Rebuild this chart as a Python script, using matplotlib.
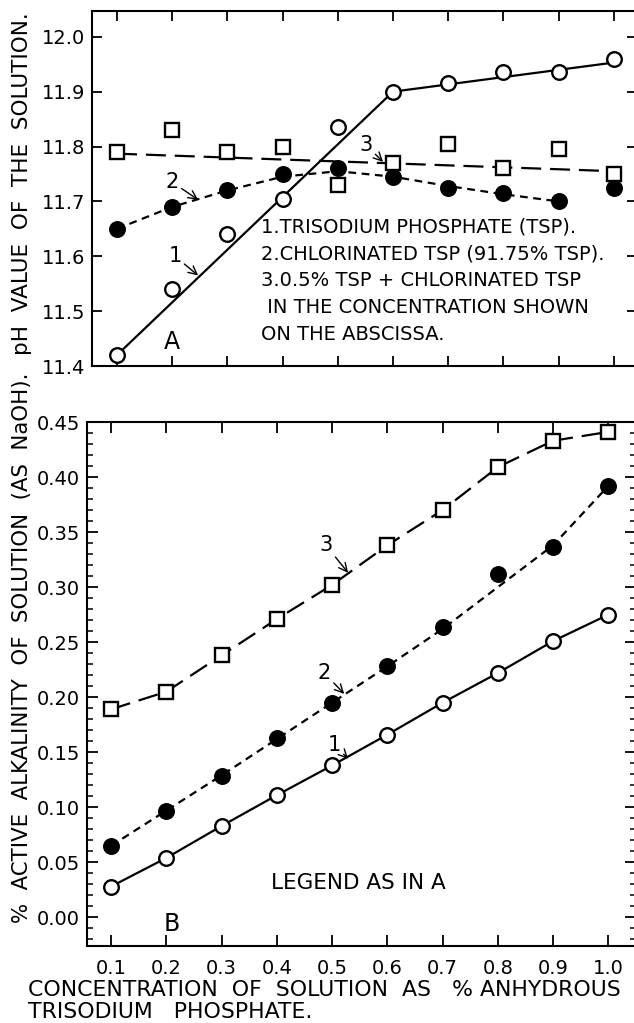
import matplotlib
matplotlib.use("Agg")
import matplotlib.pyplot as plt
from matplotlib.ticker import MultipleLocator, FormatStrFormatter

# ---------------- data ----------------
conc = [0.1, 0.2, 0.3, 0.4, 0.5, 0.6, 0.7, 0.8, 0.9, 1.0]

# Panel A: pH values
ph_tsp = [11.42, 11.54, 11.64, 11.705, 11.835, 11.90, 11.915, 11.935, 11.935, 11.96]
ph_chl = [11.65, 11.69, 11.72, 11.75, 11.76, 11.745, 11.725, 11.715, 11.70, 11.725]
ph_mix = [11.79, 11.83, 11.79, 11.80, 11.73, 11.77, 11.805, 11.76, 11.795, 11.75]

# fitted curves drawn in panel A
fit1_x = [0.1, 0.6, 1.0]
fit1_y = [11.42, 11.90, 11.953]
fit2_x = [0.1, 0.2, 0.3, 0.4, 0.5, 0.6, 0.7, 0.8, 0.9]
fit2_y = [11.65, 11.69, 11.72, 11.745, 11.755, 11.745, 11.728, 11.713, 11.70]
fit3_x = [0.1, 1.0]
fit3_y = [11.787, 11.755]

# Panel B: % active alkalinity
alk_tsp = [0.028, 0.054, 0.083, 0.111, 0.138, 0.166, 0.195, 0.222, 0.251, 0.275]
alk_chl = [0.065, 0.097, 0.128, 0.163, 0.195, 0.228, 0.264, 0.312, 0.336, 0.392]
alk_mix = [0.189, 0.205, 0.238, 0.271, 0.302, 0.338, 0.370, 0.409, 0.433, 0.441]
fitb2_y = [0.065, 0.097, 0.129, 0.162, 0.195, 0.228, 0.262, 0.300, 0.338, 0.392]

xtick_labels = ["0.1", "0.2", "0.3", "0.4", "0.5", "0.6", "0.7", "0.8", "0.9", "1.0"]

legend_lines = ["1.TRISODIUM PHOSPHATE (TSP).",
                "2.CHLORINATED TSP (91.75% TSP).",
                "3.0.5% TSP + CHLORINATED TSP",
                " IN THE CONCENTRATION SHOWN",
                "ON THE ABSCISSA."]

# ---------------- figure ----------------
plt.rcParams['font.family'] = ['DejaVu Sans']
fig = plt.figure(figsize=(6.34, 10.23), dpi=100)

axA = fig.add_axes([92/634, 1-366/1023, 545/634, 355/1023])
axB = fig.add_axes([87/634, 1-946/1023, 549/634, 524/1023])

lw = 1.6
ms = 10.5
mew = 1.7
k = 'black'

# ---- Panel A ----
axA.plot(fit1_x, fit1_y, '-', color=k, lw=lw)
axA.plot(fit2_x, fit2_y, color=k, lw=lw, dashes=(3.5, 2.5))
axA.plot(fit3_x, fit3_y, color=k, lw=lw, dashes=(9, 4))
axA.plot(conc, ph_tsp, 'o', ms=ms, mfc='white', mec=k, mew=mew)
axA.plot(conc, ph_chl, 'o', ms=ms, mfc=k, mec=k, mew=mew)
axA.plot(conc, ph_mix, 's', ms=ms-1, mfc='white', mec=k, mew=mew)

axA.set_xlim(0.0547, 1.042)
axA.set_ylim(11.4, 12.047)
axA.yaxis.set_major_locator(MultipleLocator(0.1))
axA.yaxis.set_major_formatter(FormatStrFormatter('%.1f'))
axA.set_xticks(conc)
axA.set_xticklabels([])
axA.tick_params(axis='both', direction='in', length=7, width=1.3,
                labelsize=14, top=True, right=True, pad=5)

arrowprops = dict(arrowstyle='->', color=k, lw=1.0, shrinkA=0, shrinkB=0)
axA.annotate("1", xy=(0.247, 11.565), xytext=(0.205, 11.60), fontsize=15,
             ha='center', va='center', arrowprops=arrowprops)
axA.annotate("2", xy=(0.247, 11.703), xytext=(0.200, 11.735), fontsize=15,
             ha='center', va='center', arrowprops=arrowprops)
axA.annotate("3", xy=(0.582, 11.772), xytext=(0.551, 11.803), fontsize=15,
             ha='center', va='center', arrowprops=arrowprops)

axA.text(0.2, 11.443, "A", fontsize=17, ha='center', va='center')
for i, line in enumerate(legend_lines):
    axA.text(0.36, 11.653 - i*0.049, line, fontsize=14, ha='left', va='center')

# ---- Panel B ----
axB.plot(conc, alk_tsp, '-', color=k, lw=lw)
axB.plot(conc, fitb2_y, color=k, lw=lw, dashes=(3.5, 2.5))
axB.plot(conc, alk_mix, color=k, lw=lw, dashes=(9, 4))
axB.plot(conc, alk_tsp, 'o', ms=ms, mfc='white', mec=k, mew=mew)
axB.plot(conc, alk_chl, 'o', ms=ms, mfc=k, mec=k, mew=mew)
axB.plot(conc, alk_mix, 's', ms=ms-1, mfc='white', mec=k, mew=mew)

axB.set_xlim(0.0565, 1.05)
axB.set_ylim(-0.026, 0.45)
axB.yaxis.set_major_locator(MultipleLocator(0.05))
axB.yaxis.set_minor_locator(MultipleLocator(0.01))
axB.yaxis.set_major_formatter(FormatStrFormatter('%.2f'))
axB.set_xticks(conc)
axB.set_xticklabels(xtick_labels)
axB.tick_params(axis='both', which='major', direction='in', length=8, width=1.3,
                labelsize=14, top=True, right=True, pad=5)
axB.tick_params(axis='x', which='major', pad=9)
axB.tick_params(axis='y', which='minor', direction='in', length=4, width=1.1,
                left=True, right=True)

axB.annotate("3", xy=(0.529, 0.313), xytext=(0.489, 0.338), fontsize=15,
             ha='center', va='center', arrowprops=arrowprops)
axB.annotate("2", xy=(0.522, 0.203), xytext=(0.486, 0.222), fontsize=15,
             ha='center', va='center', arrowprops=arrowprops)
axB.annotate("1", xy=(0.529, 0.144), xytext=(0.504, 0.157), fontsize=15,
             ha='center', va='center', arrowprops=arrowprops)

axB.text(0.21, -0.006, "B", fontsize=17, ha='center', va='center')
axB.text(0.39, 0.031, "LEGEND AS IN A", fontsize=15.5, ha='left', va='center')

for ax in (axA, axB):
    for s in ax.spines.values():
        s.set_linewidth(1.5)

# axis titles
fig.text(22/634, 1-184/1023, "pH  VALUE  OF  THE  SOLUTION.", rotation=90,
         fontsize=15.5, ha='center', va='center')
fig.text(22/634, 1-648/1023, "%  ACTIVE  ALKALINITY  OF  SOLUTION  (AS  NaOH).",
         rotation=90, fontsize=15.3, ha='center', va='center')
fig.text(28/634, 1-990/1023, "CONCENTRATION  OF  SOLUTION  AS   % ANHYDROUS",
         fontsize=15.8, ha='left', va='center')
fig.text(28/634, 1-1012/1023, "TRISODIUM   PHOSPHATE.",
         fontsize=15.8, ha='left', va='center')

fig.savefig("out.png", dpi=100)
